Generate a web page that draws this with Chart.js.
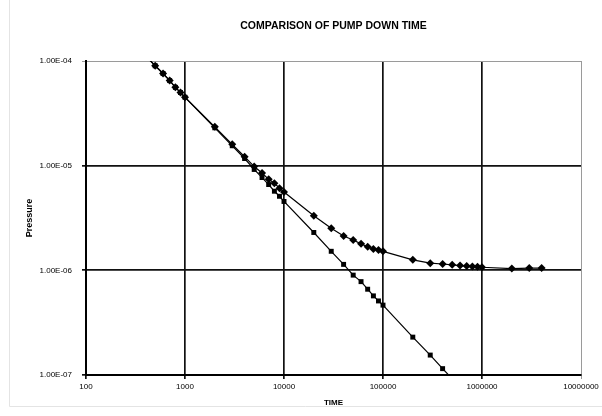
<!DOCTYPE html>
<html>
<head>
<meta charset="utf-8">
<script src="https://cdn.jsdelivr.net/npm/chart.js@4/dist/chart.umd.min.js"></script>
<style>
  html, body { margin: 0; padding: 0; background: #ffffff; }
  #wrap { width: 602px; height: 416px; position: relative; }
</style>
</head>
<body>
<div id="wrap"><canvas id="c" width="602" height="416"></canvas></div>
<script>
// ---- Data ----
const TITLE = 'COMPARISON OF PUMP DOWN TIME';
const X_TITLE = 'TIME';
const Y_TITLE = 'Pressure';

const xTicks = [100, 1000, 10000, 100000, 1000000, 10000000];
const yTicks = [1e-7, 1e-6, 1e-5, 1e-4];

// Series 1 (diamonds): levels off near 1E-06
const diamondTime = [400, 500, 600, 700, 800, 900, 1000, 2000, 3000, 4000, 5000, 6000, 7000, 8000, 9000, 10000,
  20000, 30000, 40000, 50000, 60000, 70000, 80000, 90000, 100000,
  200000, 300000, 400000, 500000, 600000, 700000, 800000, 900000, 1000000, 2000000, 3000000, 4000000];
const diamondPressure = [1.12e-4, 9.0e-5, 7.6e-5, 6.5e-5, 5.6e-5, 5.0e-5, 4.5e-5, 2.35e-5, 1.6e-5, 1.22e-5, 9.8e-6, 8.5e-6, 7.4e-6, 6.8e-6, 6.1e-6, 5.6e-6,
  3.33e-6, 2.52e-6, 2.13e-6, 1.95e-6, 1.79e-6, 1.68e-6, 1.6e-6, 1.56e-6, 1.52e-6,
  1.26e-6, 1.17e-6, 1.15e-6, 1.13e-6, 1.11e-6, 1.10e-6, 1.09e-6, 1.08e-6, 1.07e-6, 1.04e-6, 1.05e-6, 1.05e-6];

// Series 2 (squares): keeps falling
const squareTime = [400, 500, 600, 700, 800, 900, 1000, 2000, 3000, 4000, 5000, 6000, 7000, 8000, 9000, 10000,
  20000, 30000, 40000, 50000, 60000, 70000, 80000, 90000, 100000, 200000, 300000, 400000, 500000];
const squarePressure = [1.12e-4, 9.0e-5, 7.6e-5, 6.5e-5, 5.6e-5, 5.0e-5, 4.5e-5, 2.3e-5, 1.55e-5, 1.17e-5, 9.2e-6, 7.7e-6, 6.6e-6, 5.7e-6, 5.1e-6, 4.55e-6,
  2.3e-6, 1.52e-6, 1.14e-6, 9.0e-7, 7.8e-7, 6.6e-7, 5.7e-7, 5.1e-7, 4.65e-7, 2.3e-7, 1.55e-7, 1.15e-7, 9.2e-8];

// ---- Build ----
const toPoints = (xs, ys) => xs.map((x, i) => ({ x: x, y: ys[i] }));

function fmtExp(v) {
  const e = Math.round(Math.log10(v));
  const m = v / Math.pow(10, e);
  const ae = Math.abs(e);
  return m.toFixed(2) + 'E' + (e < 0 ? '-' : '+') + (ae < 10 ? '0' + ae : '' + ae);
}

const framePlugin = {
  id: 'frame',
  beforeDraw(chart) {
    const ctx = chart.ctx;
    ctx.save();
    ctx.fillStyle = '#ffffff';
    ctx.fillRect(0, 0, chart.width, chart.height);
    ctx.strokeStyle = '#e4e4e4';
    ctx.lineWidth = 1;
    ctx.beginPath();
    ctx.moveTo(9.5, 0);
    ctx.lineTo(9.5, 406.5);
    ctx.lineTo(602, 406.5);
    ctx.stroke();
    ctx.restore();
  },
  afterDraw(chart) {
    const ctx = chart.ctx;
    const a = chart.chartArea;
    ctx.save();
    ctx.fillStyle = '#000';
    ctx.font = 'bold 10.5px "Liberation Sans"';
    ctx.textAlign = 'center';
    ctx.textBaseline = 'middle';
    ctx.fillText(TITLE, (a.left + a.right) / 2, 26);
    ctx.restore();
  }
};

const ctx = document.getElementById('c').getContext('2d');
new Chart(ctx, {
  type: 'line',
  data: {
    datasets: [
      {
        label: 'Series 1',
        data: toPoints(diamondTime, diamondPressure),
        borderColor: '#000',
        backgroundColor: '#000',
        borderWidth: 1.2,
        pointStyle: 'rectRot',
        pointRadius: 4,
        pointBorderWidth: 0,
        pointBackgroundColor: '#000',
        tension: 0,
        clip: 0
      },
      {
        label: 'Series 2',
        data: toPoints(squareTime, squarePressure),
        borderColor: '#000',
        backgroundColor: '#000',
        borderWidth: 1.2,
        pointStyle: 'rect',
        pointRadius: 3.5,
        pointBorderWidth: 0,
        pointBackgroundColor: '#000',
        tension: 0,
        clip: 0
      }
    ]
  },
  options: {
    responsive: false,
    animation: false,
    devicePixelRatio: 1,
    layout: { padding: { left: 0, right: 21, top: 61, bottom: 0 } },
    plugins: {
      legend: { display: false },
      tooltip: { enabled: false },
      title: { display: false }
    },
    scales: {
      x: {
        type: 'logarithmic',
        min: 100,
        max: 10000000,
        afterBuildTicks: (s) => { s.ticks = xTicks.map(v => ({ value: v })); },
        afterFit: (s) => { s.height = 41; },
        ticks: {
          color: '#000',
          font: { family: 'Liberation Sans', size: 8 },
          padding: 3,
          maxRotation: 0,
          autoSkip: false,
          callback: (v) => String(Math.round(v))
        },
        grid: {
          color: (c) => (c.tick && c.tick.value === 10000000) ? '#9a9a9a' : '#111',
          lineWidth: (c) => (c.tick && c.tick.value === 10000000) ? 1 : 1.7,
          tickLength: 4,
          drawTicks: true
        },
        border: { display: true, color: '#000', width: 2 },
        title: {
          display: true,
          text: X_TITLE,
          color: '#000',
          font: { family: 'Liberation Sans', size: 8, weight: 'bold' },
          padding: { top: 0, bottom: 8 }
        }
      },
      y: {
        type: 'logarithmic',
        min: 1e-7,
        max: 1e-4,
        afterBuildTicks: (s) => { s.ticks = yTicks.map(v => ({ value: v })); },
        afterFit: (s) => { s.width = 86; },
        ticks: {
          color: '#000',
          font: { family: 'Liberation Sans', size: 8 },
          padding: 10,
          autoSkip: false,
          callback: (v) => fmtExp(v)
        },
        grid: {
          color: (c) => (c.tick && c.tick.value === 1e-4) ? '#9a9a9a' : '#111',
          lineWidth: (c) => (c.tick && c.tick.value === 1e-4) ? 1 : 1.7,
          tickLength: 4,
          drawTicks: true
        },
        border: { display: true, color: '#000', width: 2 },
        title: {
          display: true,
          text: Y_TITLE,
          color: '#000',
          font: { family: 'Liberation Sans', size: 9, weight: 'bold' },
          padding: { top: 24.6, bottom: 0 }
        }
      }
    }
  },
  plugins: [framePlugin]
});
</script>
</body>
</html>
